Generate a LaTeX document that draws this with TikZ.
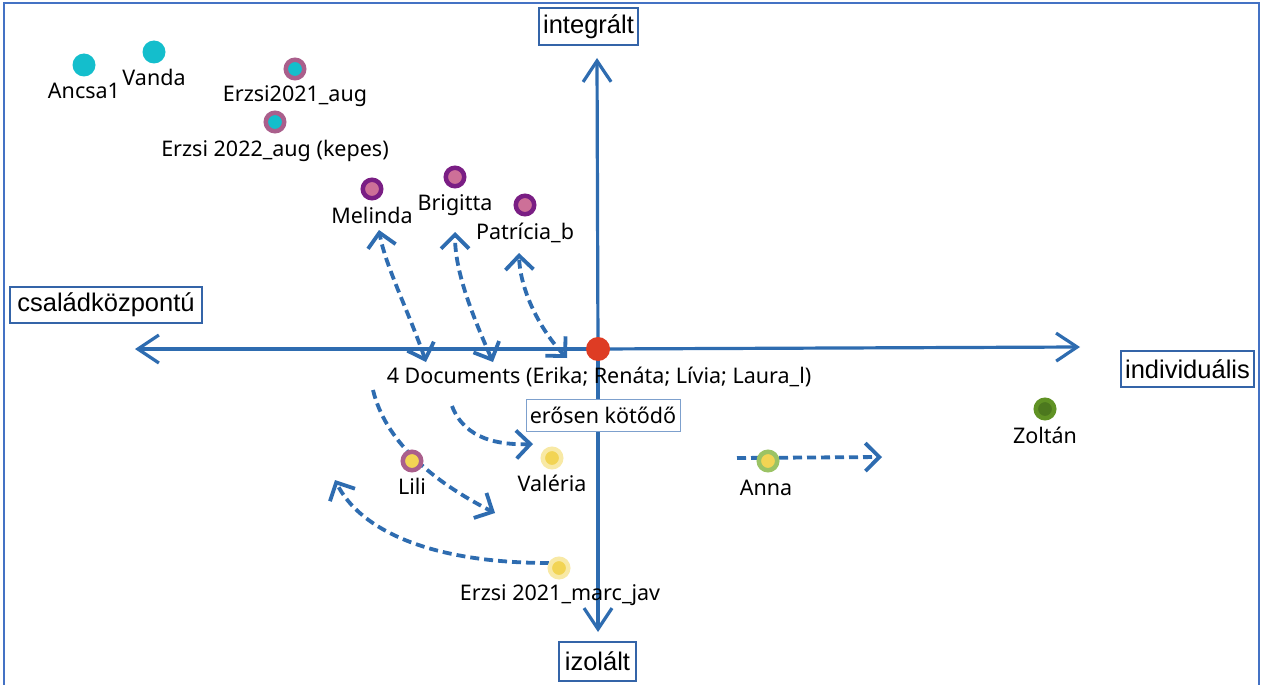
\documentclass[tikz,border=0pt]{standalone}
\usepackage{fontspec}
\setmainfont{Noto Sans}
\newfontfamily\boxfont{Liberation Sans}
\usetikzlibrary{arrows.meta}
\definecolor{axisblue}{RGB}{46,108,176}
\definecolor{framec}{RGB}{68,114,196}
\definecolor{boxc}{RGB}{52,100,168}
\definecolor{lboxc}{RGB}{125,160,205}
\definecolor{dcyan}{RGB}{20,190,204}
\definecolor{mauve}{RGB}{170,95,140}
\definecolor{purp}{RGB}{122,30,132}
\definecolor{pinkc}{RGB}{205,112,152}
\definecolor{yelc}{RGB}{242,212,84}
\definecolor{halo}{RGB}{248,233,165}
\definecolor{lgreen}{RGB}{155,195,100}
\definecolor{gring}{RGB}{96,146,36}
\definecolor{ginner}{RGB}{76,120,30}
\definecolor{redc}{RGB}{222,60,36}
\tikzset{
  dotc/.style={circle, inner sep=0pt, minimum size=23pt, fill=#1},
  ringdot/.style 2 args={circle, inner sep=0pt, minimum size=18.5pt, draw=#1, line width=4.5pt, fill=#2},
  lbl/.style={anchor=base, inner sep=0pt, font=\fontsize{21.5}{24}\selectfont},
  axlbl/.style={draw=boxc, line width=1.5pt, fill=white, inner sep=0pt, font=\boxfont\fontsize{25.5}{28}\selectfont},
  axisline/.style={draw=axisblue, line width=3.2pt, -{Straight Barb[length=21pt,width=28pt]}},
  dline/.style={draw=axisblue, line width=3.8pt, dash pattern=on 9pt off 5pt},
  tipend/.style={-{Straight Barb[length=14pt,width=28pt]}},
  tipboth/.style={{Straight Barb[length=14pt,width=28pt]}-{Straight Barb[length=14pt,width=28pt]}},
}
\begin{document}
\begin{tikzpicture}[x=1pt,y=-1pt]
\useasboundingbox (0,0) rectangle (1262,685);
\fill[white] (0,0) rectangle (1262,685);
\draw[framec, line width=2pt] (4,3) rectangle (1259,720);

% axes
\coordinate (O) at (598,349);
\coordinate (axT) at (597,58);
\coordinate (axB) at (598,632);
\coordinate (axL) at (135,349);
\coordinate (axR) at (1080,347);
\draw[axisline] (O) -- (axT);
\draw[axisline] (O) -- (axB);
\draw[axisline] (O) -- (axL);
\draw[axisline] (O) -- (axR);

% axis labels
\node[axlbl, minimum width=99pt, minimum height=37pt] (tInt) at (588.5,26.5) {integrált};
\node[axlbl, minimum width=77pt, minimum height=39pt] (tIzo) at (597.5,661.5) {izolált};
\node[axlbl, minimum width=192pt, minimum height=36pt] (tCsa) at (106,305) {családközpontú};
\node[axlbl, minimum width=133pt, minimum height=36pt] (tInd) at (1187.5,369) {individuális};
\node[draw=lboxc, line width=1pt, fill=white, inner sep=0pt, minimum width=154pt, minimum height=32pt, font=\fontsize{21.5}{24}\selectfont] (tErs) at (603,415) {erősen kötődő};

% dashed connectors
\coordinate (mB) at (426,362);
\coordinate (mT) at (379,230);
\coordinate (bB) at (493,362);
\coordinate (bT) at (455,232);
\coordinate (pB) at (567,358);
\coordinate (pT) at (519,253);
\draw[dline, tipboth] (mB) .. controls (410,315) and (385,265) .. (mT);
\draw[dline, tipboth] (bB) .. controls (470,310) and (455,270) .. (bT);
\draw[dline, tipboth] (pB) .. controls (540,330) and (520,290) .. (pT);

\coordinate (lS) at (373,390);
\coordinate (lE) at (495,513);
\draw[dline, tipend] (lS) .. controls (385,440) and (430,480) .. (lE);
\coordinate (vS) at (452,406);
\coordinate (vE) at (533,444);
\draw[dline, tipend] (vS) .. controls (465,440) and (500,445) .. (vE);
\coordinate (eS) at (549,563);
\coordinate (eE) at (335,480);
\draw[dline, tipend] (eS) .. controls (430,563) and (360,530) .. (eE);
\coordinate (aS) at (737,458);
\coordinate (aE) at (882,457);
\draw[dline, tipend] (aS) -- (aE);

% dots
\node[circle, inner sep=0pt, minimum size=24pt, fill=redc] (red) at (O) {};
\node[dotc=dcyan] (ancsa) at (84,65) {};
\node[dotc=dcyan] (vanda) at (154,52) {};
\node[ringdot={mauve}{dcyan}] (erz21) at (295,69) {};
\node[ringdot={mauve}{dcyan}] (erz22) at (275,122) {};
\node[ringdot={purp}{pinkc}] (meli) at (372,189) {};
\node[ringdot={purp}{pinkc}] (brig) at (455,177) {};
\node[ringdot={purp}{pinkc}] (patr) at (525,205) {};
\node[ringdot={mauve}{yelc}] (lili) at (412,461) {};
\node[ringdot={halo}{yelc}] (vale) at (552,458) {};
\node[ringdot={halo}{yelc}] (erzm) at (559,568) {};
\node[ringdot={lgreen}{yelc}] (anna) at (768,461) {};
\node[ringdot={gring}{ginner}] (zolt) at (1045,409) {};

% labels
\node[lbl] (lAncsa) at (84,99) {Ancsa1};
\node[lbl] (lVanda) at (154,86) {Vanda};
\node[lbl] (lErz21) at (295,102) {Erzsi2021\_aug};
\node[lbl] (lErz22) at (275,157) {Erzsi 2022\_aug (kepes)};
\node[lbl] (lMeli) at (372,223) {Melinda};
\node[lbl] (lBrig) at (455,210) {Brigitta};
\node[lbl] (lPatr) at (525,239) {Patrícia\_b};
\node[lbl] (lDocs) at (599,383) {4 Documents (Erika; Renáta; Lívia; Laura\_l)};
\node[lbl] (lLili) at (412,494) {Lili};
\node[lbl] (lVale) at (552,491) {Valéria};
\node[lbl] (lErzm) at (560,600) {Erzsi 2021\_marc\_jav};
\node[lbl] (lAnna) at (766,495) {Anna};
\node[lbl] (lZolt) at (1045,443) {Zoltán};
\end{tikzpicture}
\end{document}
